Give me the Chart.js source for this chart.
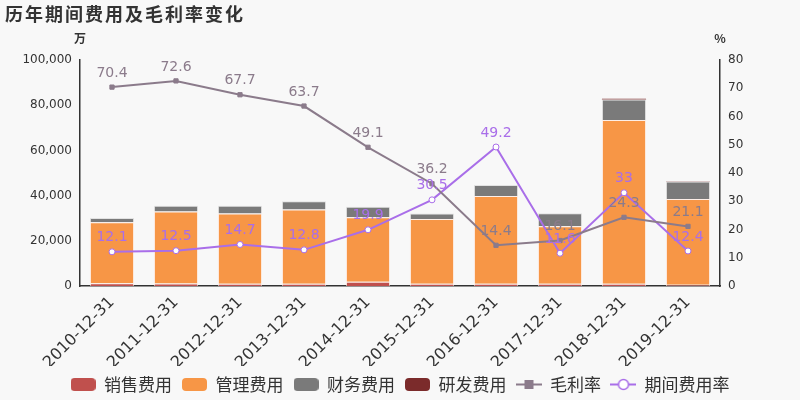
<!DOCTYPE html>
<html>
<head>
<meta charset="utf-8">
<script src="https://cdn.jsdelivr.net/npm/chart.js@4"></script>
<style>
  html, body { margin: 0; padding: 0; background: #f8f8f8; }
  #wrap { width: 800px; height: 400px; }
</style>
</head>
<body>
<div id="wrap"><canvas id="myChart" width="800" height="400"></canvas></div>
<script>
const years = ["2010-12-31", "2011-12-31", "2012-12-31", "2013-12-31", "2014-12-31",
  "2015-12-31", "2016-12-31", "2017-12-31", "2018-12-31", "2019-12-31"];
// 万元
const sales = [1200, 1100, 1000, 1000, 1900, 1000, 1000, 1000, 1000, 500];
const admin = [27000, 31900, 31100, 32800, 28500, 28600, 38800, 25400, 72500, 38000];
const finance = [1900, 2500, 3400, 3700, 4700, 2500, 4900, 5800, 9000, 7700];
const research = [0, 0, 0, 0, 0, 0, 0, 0, 400, 200];
// %
const grossMargin = [70.4, 72.6, 67.7, 63.7, 49.1, 36.2, 14.4, 16.1, 24.3, 21.1];
const expenseRate = [12.1, 12.5, 14.7, 12.8, 19.9, 30.5, 49.2, 11.6, 33, 12.4];
const leftTicks = [0, 20000, 40000, 60000, 80000, 100000];
const rightTicks = [0, 10, 20, 30, 40, 50, 60, 70, 80];

const C_SALES = "#c0504d", C_ADMIN = "#f79646", C_FIN = "#7a7a7a", C_RD = "#7b2b2b";
const C_GM = "#8b7b8b", C_ER = "#a96ee9";
const TXT = "#333";

function boxIcon(color) {
  const c = document.createElement("canvas");
  c.width = 25; c.height = 13;
  const g = c.getContext("2d");
  g.fillStyle = color;
  g.beginPath();
  g.roundRect(0, 0, 25, 13, 4);
  g.fill();
  return c;
}
function lineIcon(color, shape) {
  const c = document.createElement("canvas");
  c.width = 26; c.height = 13;
  const g = c.getContext("2d");
  g.strokeStyle = color;
  g.lineWidth = 2;
  g.beginPath(); g.moveTo(0, 6.5); g.lineTo(26, 6.5); g.stroke();
  if (shape === "rect") {
    g.fillStyle = color;
    g.fillRect(8.5, 2, 9, 9);
  } else {
    g.fillStyle = "#fff";
    g.lineWidth = 1.5;
    g.beginPath(); g.arc(13, 6.5, 5, 0, Math.PI * 2); g.fill(); g.stroke();
  }
  return c;
}

const bgPlugin = {
  id: "bg",
  beforeDraw(chart) {
    const ctx = chart.ctx;
    ctx.save();
    ctx.fillStyle = "#f8f8f8";
    ctx.fillRect(0, 0, chart.width, chart.height);
    ctx.restore();
  },
  afterDraw(chart) {
    const ctx = chart.ctx;
    ctx.save();
    ctx.fillStyle = TXT;
    ctx.font = 'bold 18px "Noto Sans CJK SC"';
    ctx.letterSpacing = "2px";
    ctx.textBaseline = "middle";
    ctx.textAlign = "left";
    ctx.fillText("历年期间费用及毛利率变化", 5, 14);
    ctx.letterSpacing = "0px";
    ctx.font = 'bold 12px "Noto Sans CJK SC"';
    ctx.textAlign = "center";
    ctx.fillText("万", chart.chartArea.left, 38);
    ctx.fillText("%", chart.chartArea.right, 38);
    ctx.restore();
  }
};

const labelPlugin = {
  id: "pointLabels",
  afterDatasetsDraw(chart) {
    const ctx = chart.ctx;
    ctx.save();
    ctx.font = '14px "DejaVu Sans"';
    ctx.textAlign = "center";
    ctx.textBaseline = "bottom";
    [4, 5].forEach((di) => {
      const ds = chart.data.datasets[di];
      const meta = chart.getDatasetMeta(di);
      ctx.fillStyle = ds.borderColor;
      meta.data.forEach((pt, i) => {
        ctx.fillText(String(ds.data[i]), pt.x, pt.y - 7);
      });
    });
    ctx.restore();
  }
};

const legendIcons = [boxIcon(C_SALES), boxIcon(C_ADMIN), boxIcon(C_FIN), boxIcon(C_RD),
  lineIcon(C_GM, "rect"), lineIcon(C_ER, "circle")];

const barBorder = "rgba(255,235,225,0.7)";

new Chart(document.getElementById("myChart"), {
  data: {
    labels: years,
    datasets: [
      { type: "bar", label: "销售费用", data: sales, backgroundColor: C_SALES, borderColor: barBorder, borderWidth: 1, stack: "s", yAxisID: "y", order: 1 },
      { type: "bar", label: "管理费用", data: admin, backgroundColor: C_ADMIN, borderColor: barBorder, borderWidth: 1, stack: "s", yAxisID: "y", order: 1 },
      { type: "bar", label: "财务费用", data: finance, backgroundColor: C_FIN, borderColor: "rgba(220,220,220,0.8)", borderWidth: 1, stack: "s", yAxisID: "y", order: 1 },
      { type: "bar", label: "研发费用", data: research, backgroundColor: C_RD, borderWidth: 0, stack: "s", yAxisID: "y", order: 1 },
      { type: "line", label: "毛利率", data: grossMargin, borderColor: C_GM, backgroundColor: C_GM, borderWidth: 2,
        pointStyle: "rect", pointRadius: 3, pointBorderWidth: 1, yAxisID: "y1", order: 0 },
      { type: "line", label: "期间费用率", data: expenseRate, borderColor: C_ER, backgroundColor: "#fff", borderWidth: 2,
        pointStyle: "circle", pointRadius: 3, pointBorderWidth: 1, yAxisID: "y1", order: 0 }
    ]
  },
  options: {
    responsive: false,
    animation: false,
    layout: { padding: { top: 60, left: 0, right: 0, bottom: -3 } },
    datasets: { bar: { categoryPercentage: 1, barPercentage: 0.69 } },
    scales: {
      x: {
        stacked: true,
        grid: { display: false, drawTicks: true, offset: true, tickLength: 5, tickColor: TXT },
        border: { color: TXT, width: 1.5 },
        ticks: { color: TXT, font: { size: 16, family: "DejaVu Sans" }, minRotation: 45, maxRotation: 45, padding: 2 },
        afterFit(s) { s.height = 80; }
      },
      y: {
        stacked: true,
        position: "left",
        min: 0, max: 100000,
        grid: { display: false, drawTicks: true, tickLength: 5, tickColor: TXT },
        border: { color: TXT, width: 1.5 },
        afterBuildTicks(s) { s.ticks = leftTicks.map((v) => ({ value: v })); },
        ticks: { color: TXT, font: { size: 12, family: "DejaVu Sans" }, padding: 3,
          callback: (v) => v.toLocaleString("en-US") },
        afterFit(s) { s.width = 80; }
      },
      y1: {
        position: "right",
        min: 0, max: 80,
        grid: { display: false, drawTicks: true, tickLength: 5, tickColor: TXT },
        border: { color: TXT, width: 1.5 },
        afterBuildTicks(s) { s.ticks = rightTicks.map((v) => ({ value: v })); },
        ticks: { color: TXT, font: { size: 12, family: "DejaVu Sans" }, padding: 3 },
        afterFit(s) { s.width = 80; }
      }
    },
    plugins: {
      title: { display: false },
      tooltip: { enabled: false },
      legend: {
        position: "bottom",
        labels: {
          usePointStyle: true,
          pointStyleWidth: 25,
          boxHeight: 13,
          padding: 10,
          color: TXT,
          font: { size: 17, family: "Noto Sans CJK SC" },
          generateLabels: (chart) => chart.data.datasets.map((ds, i) => ({
            text: ds.label,
            pointStyle: legendIcons[i],
            fillStyle: ds.backgroundColor,
            strokeStyle: ds.borderColor,
            lineWidth: 0,
            fontColor: TXT,
            hidden: false,
            datasetIndex: i
          }))
        }
      }
    }
  },
  plugins: [bgPlugin, labelPlugin]
});
</script>
</body>
</html>
